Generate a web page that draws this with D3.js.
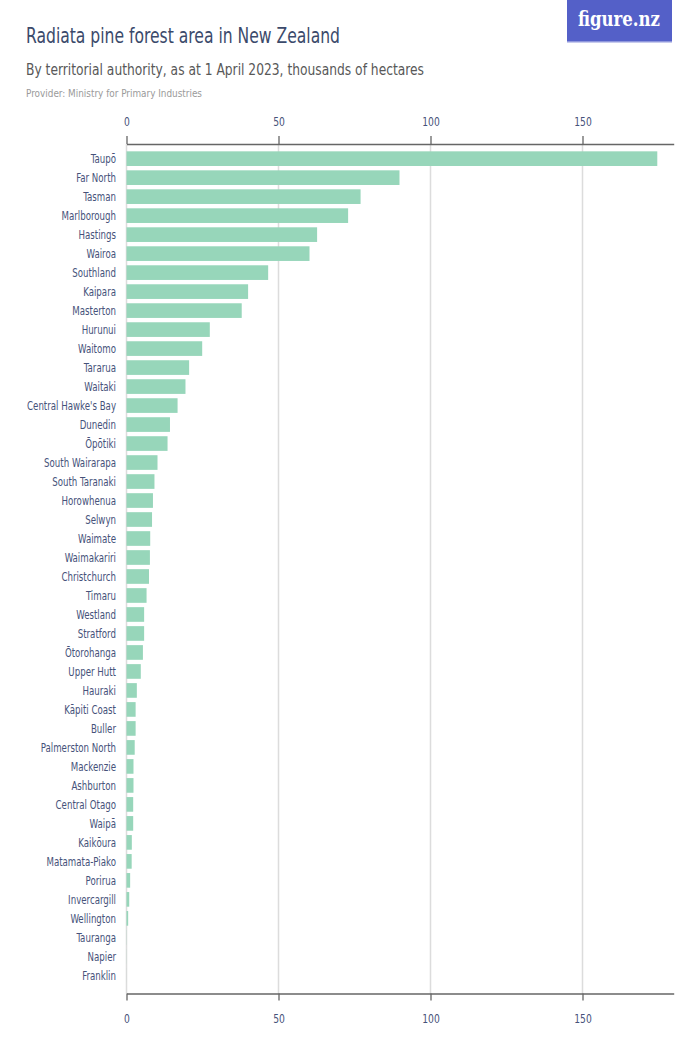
<!DOCTYPE html>
<html>
<head>
<meta charset="utf-8">
<script src="https://cdn.jsdelivr.net/npm/d3@7"></script>
<style>
  html, body { margin: 0; padding: 0; background: #fff; }
  svg { display: block; }
  text { font-stretch: condensed; }
</style>
</head>
<body>
<svg id="chart" width="700" height="1050"></svg>
<script>
const categories = ["Taupō","Far North","Tasman","Marlborough","Hastings","Wairoa","Southland","Kaipara","Masterton","Hurunui","Waitomo","Tararua","Waitaki","Central Hawke's Bay","Dunedin","Ōpōtiki","South Wairarapa","South Taranaki","Horowhenua","Selwyn","Waimate","Waimakariri","Christchurch","Timaru","Westland","Stratford","Ōtorohanga","Upper Hutt","Hauraki","Kāpiti Coast","Buller","Palmerston North","Mackenzie","Ashburton","Central Otago","Waipā","Kaikōura","Matamata-Piako","Porirua","Invercargill","Wellington","Tauranga","Napier","Franklin"];
const values = [174.6,89.8,77.0,72.9,62.7,60.2,46.6,40.0,37.9,27.4,24.9,20.6,19.4,16.8,14.3,13.5,10.2,9.2,8.7,8.4,7.8,7.7,7.4,6.6,5.8,5.8,5.4,4.7,3.4,3.0,3.0,2.7,2.3,2.3,2.2,2.2,1.75,1.7,1.2,0.9,0.55,0.05,0.03,0.01];
const tickValues = [0, 50, 100, 150];
const title = "Radiata pine forest area in New Zealand";
const subtitle = "By territorial authority, as at 1 April 2023, thousands of hectares";
const provider = "Provider: Ministry for Primary Industries";

const data = categories.map((c, i) => ({ name: c, value: values[i] }));
const svg = d3.select("#chart");
const FONT = '"DejaVu Sans Condensed", "DejaVu Sans", sans-serif';

// fit a text element horizontally to a target width (keeps it as real text)
function fitWidth(sel, w) {
  const len = sel.node().getComputedTextLength();
  if (len > 0) sel.attr("textLength", w).attr("lengthAdjust", "spacingAndGlyphs");
}
function squeeze(sel, f) {
  sel.each(function () {
    const len = this.getComputedTextLength();
    if (len > 0) d3.select(this).attr("textLength", len * f).attr("lengthAdjust", "spacingAndGlyphs");
  });
}

// Header
svg.append("text").attr("x", 26).attr("y", 43).attr("font-family", FONT)
  .attr("font-size", 20.5).attr("fill", "#3b4a6b").text(title).call(fitWidth, 314);
svg.append("text").attr("x", 26).attr("y", 75).attr("font-family", FONT)
  .attr("font-size", 16.5).attr("fill", "#585858").text(subtitle).call(fitWidth, 398);
svg.append("text").attr("x", 26).attr("y", 97).attr("font-family", FONT)
  .attr("font-size", 11).attr("fill", "#9a9a9a").text(provider).call(fitWidth, 176);

// Logo
const logo = svg.append("g");
logo.append("rect").attr("x", 567).attr("y", 0).attr("width", 105).attr("height", 42).attr("fill", "#5460c8");
logo.append("rect").attr("x", 567).attr("y", 41).attr("width", 105).attr("height", 1.5).attr("fill", "#8f97dc");
logo.append("text").attr("x", 578).attr("y", 26)
  .attr("font-family", '"DejaVu Serif", "Liberation Serif", serif').attr("font-size", 21).attr("font-weight", 600)
  .attr("fill", "#fff").text("figure.nz").call(fitWidth, 82);

// Scales
const x = d3.scaleLinear().domain([0, 180]).range([126.5, 673.7]);
const y = d3.scaleBand().domain(categories).range([147, 987]).padding(0.228);

const topY = 144, botY = 993.5;

// Gridlines
svg.append("g").selectAll("line").data(tickValues).join("line")
  .attr("x1", d => x(d)).attr("x2", d => x(d))
  .attr("y1", topY).attr("y2", botY)
  .attr("stroke", "#dcdcdc").attr("stroke-width", 1.5);

// Bars
svg.append("g").selectAll("rect").data(data).join("rect")
  .attr("x", x(0))
  .attr("y", d => y(d.name))
  .attr("width", d => Math.max(0, x(d.value) - x(0)))
  .attr("height", y.bandwidth())
  .attr("fill", "#97d6ba");

// Category labels
svg.append("g").selectAll("text").data(data).join("text")
  .attr("x", 116)
  .attr("y", d => y(d.name) + y.bandwidth() / 2)
  .attr("dy", "0.35em")
  .attr("text-anchor", "end")
  .attr("font-family", FONT).attr("font-size", 12)
  .attr("fill", "#46527a")
  .text(d => d.name)
  .call(squeeze, 0.8);

// Axes
function styleAxis(g) {
  g.select(".domain").attr("stroke", "#666").attr("stroke-width", 1.3);
  g.selectAll(".tick line").attr("stroke", "#666").attr("stroke-width", 1.3);
  g.selectAll(".tick text").attr("font-family", FONT).attr("font-size", 12).attr("fill", "#46527a").call(squeeze, 0.85);
}
const topAxis = d3.axisTop(x).tickValues(tickValues).tickSize(8).tickSizeOuter(0).tickPadding(10);
svg.append("g").attr("transform", `translate(0,${topY})`).call(topAxis).call(styleAxis);
const botAxis = d3.axisBottom(x).tickValues(tickValues).tickSize(7).tickSizeOuter(0).tickPadding(14);
svg.append("g").attr("transform", `translate(0,${botY})`).call(botAxis).call(styleAxis);
</script>
</body>
</html>
